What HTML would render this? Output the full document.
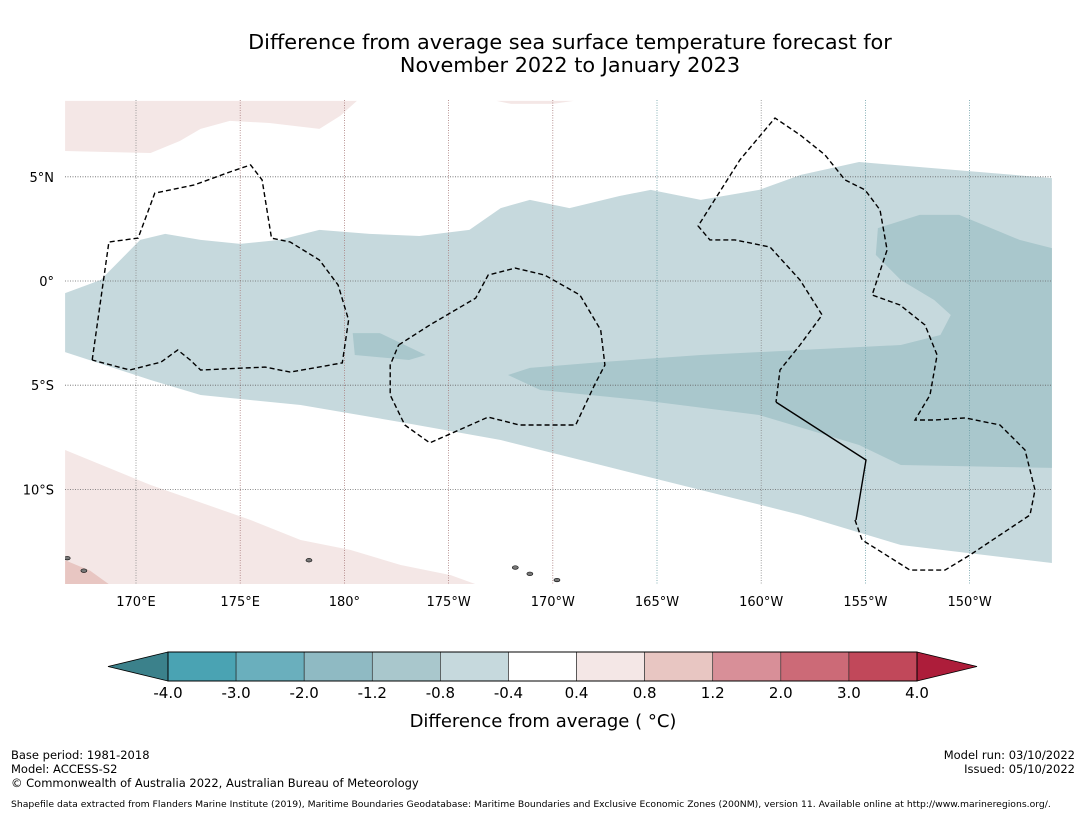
<!DOCTYPE html>
<html><head><meta charset="utf-8">
<style>
html,body{margin:0;padding:0;background:#fff;}
body{width:1085px;height:816px;position:relative;overflow:hidden;font-family:"DejaVu Sans","Liberation Sans",sans-serif;}
.t{position:absolute;white-space:nowrap;color:#000;}
</style></head>
<body>
<div class="t" style="left:0;width:1140px;top:31px;text-align:center;font-size:20.8px;line-height:23px;">Difference from average sea surface temperature forecast for<br>November 2022 to January 2023</div>
<svg id="map" width="1085" height="816" style="position:absolute;left:0;top:0" xmlns="http://www.w3.org/2000/svg"></svg>
<div class="t" style="left:11px;top:748px;font-size:11.5px;line-height:14px;">Base period: 1981-2018<br>Model: ACCESS-S2</div>
<div class="t" style="left:11px;top:776px;font-size:11.5px;">© Commonwealth of Australia 2022, Australian Bureau of Meteorology</div>
<div class="t" style="right:10px;top:748px;font-size:11.5px;line-height:14px;text-align:right;">Model run: 03/10/2022<br>Issued: 05/10/2022</div>
<div class="t" style="left:11px;top:799px;font-size:9.25px;">Shapefile data extracted from Flanders Marine Institute (2019), Maritime Boundaries Geodatabase: Maritime Boundaries and Exclusive Economic Zones (200NM), version 11. Available online at http://www.marineregions.org/.</div>
<script>
const NS='http://www.w3.org/2000/svg';
const svg=document.getElementById('map');
const FONT='DejaVu Sans, Liberation Sans, sans-serif';
const lonTicks=[170,175,180,185,190,195,200,205,210];
const lonLabels=['170°E','175°E','180°','175°W','170°W','165°W','160°W','155°W','150°W'];
const latTicks=[5,0,-5,-10];
const latLabels=['5°N','0°','5°S','10°S'];
const cbLevels=['-4.0','-3.0','-2.0','-1.2','-0.8','-0.4','0.4','0.8','1.2','2.0','3.0','4.0'];
const cbColors=['#4aa3b3','#6aafbd','#8fbac3','#a9c7cc','#c6d9dd','#ffffff','#f4e7e6','#e8c6c2','#d88f98','#cc6a77','#c1485a'];
const lightBand=[[166.6,-0.58],[168.3,0.05],[170.2,1.97],[171.4,2.26],[173.1,1.97],[175,1.78],[176.9,1.97],[178.8,2.45],[181.2,2.26],[183.6,2.16],[186,2.45],[187.5,3.5],[188.9,3.89],[190.8,3.5],[193.2,4.08],[194.7,4.37],[197.1,3.89],[199.9,4.37],[201.9,5.09],[204.7,5.71],[213.95,4.94],[213.95,-13.53],[206.7,-12.67],[201.9,-11.23],[197.1,-10.03],[192.3,-8.83],[187.5,-7.63],[182.7,-6.77],[177.9,-5.95],[173.1,-5.47],[170.7,-4.75],[166.6,-3.41]];
const midBand=[[213.95,1.58],[212.4,1.97],[209.5,3.17],[207.6,3.17],[205.6,2.54],[205.5,1.25],[206.7,0.05],[208.3,-0.91],[209.1,-1.63],[208.6,-2.59],[206.7,-3.07],[201.9,-3.31],[197.1,-3.55],[192.3,-3.89],[188.9,-4.17],[187.85,-4.51],[189.4,-5.23],[194.2,-5.71],[199.9,-6.43],[204.7,-7.87],[206.7,-8.83],[213.95,-8.97]];
const midPatch=[[180.4,-2.5],[181.7,-2.5],[183.9,-3.55],[183.1,-3.79],[180.5,-3.55]];
const pinkTop=[[166.6,8.64],[180.6,8.64],[179.8,7.92],[178.8,7.3],[176.4,7.58],[174.5,7.68],[173.1,7.3],[172.1,6.72],[170.7,6.14],[166.6,6.24]];
const pinkBottom=[[166.6,-8.11],[170.7,-9.79],[175.5,-11.47],[177.9,-12.43],[180.3,-12.91],[182.7,-13.63],[185.1,-14.11],[186.3,-14.55],[166.6,-14.55]];
const pinkTopMid=[[187.3,8.64],[191,8.64],[190,8.5],[188,8.5]];
const pinkDark=[[166.6,-13.4],[167.8,-13.9],[168.7,-14.55],[166.6,-14.55]];
const eez1=[[167.9,-3.79],[168.7,1.87],[170.1,2.06],[170.9,4.22],[172.8,4.61],[174.5,5.23],[175.5,5.57],[176.05,4.85],[176.5,2.06],[177.4,1.87],[178.8,1.01],[179.7,-0.19],[180.2,-1.87],[179.9,-3.93],[177.4,-4.37],[176.2,-4.13],[173.1,-4.27],[172.6,-3.79],[172.0,-3.31],[171.2,-3.89],[169.7,-4.27],[167.9,-3.79]];
const eez2=[[182.6,-3.07],[184.1,-2.11],[186.3,-0.82],[186.9,0.29],[188.2,0.62],[189.6,0.29],[191.3,-0.67],[192.3,-2.35],[192.5,-4.03],[192.0,-4.99],[191.1,-6.91],[188.4,-6.91],[186.9,-6.53],[184.1,-7.77],[182.9,-6.91],[182.2,-5.47],[182.2,-4.03],[182.6,-3.07]];
const eez3=[[204.5,-11.47],[204.84,-12.43],[205.46,-12.81],[207.14,-13.87],[208.82,-13.87],[210.02,-13.15],[211.46,-12.19],[212.9,-11.23],[213.14,-10.03],[212.66,-8.11],[211.46,-6.91],[209.78,-6.57],[208.34,-6.67],[207.38,-6.67],[208.1,-5.47],[208.44,-3.55],[207.86,-2.11],[206.66,-1.15],[205.32,-0.67],[206.04,1.49],[205.7,3.41],[204.98,4.37],[204.02,4.85],[203.06,6.05],[201.86,7.01],[200.66,7.82],[198.98,5.81],[196.97,2.64],[197.54,1.97],[198.74,1.97],[200.42,1.63],[201.86,0.05],[202.92,-1.63],[201.86,-3.07],[200.9,-4.27],[200.71,-5.81]];
const eezSolid=[[200.71,-5.81],[205.03,-8.59],[204.55,-11.47]];
const islands=[[188.2,-13.75],[188.9,-14.05],[190.2,-14.35],[178.3,-13.4],[166.7,-13.3],[167.5,-13.9]];

const X0=136, DX=20.84, Y0=281;
const xs=lon=>X0+(lon-170)*DX;
const ys=lat=>Y0-lat*DX;
const mapL=65,mapR=1052,mapT=100,mapB=584;
function el(tag,attrs){const e=document.createElementNS(NS,tag);for(const k in attrs)e.setAttribute(k,attrs[k]);svg.appendChild(e);return e;}
const pts=a=>a.map(p=>xs(p[0]).toFixed(1)+','+ys(p[1]).toFixed(1)).join(' ');

const defs=el('defs',{});
const cp=document.createElementNS(NS,'clipPath');cp.setAttribute('id','mc');
const cr=document.createElementNS(NS,'rect');cr.setAttribute('x',mapL);cr.setAttribute('y',mapT);cr.setAttribute('width',mapR-mapL);cr.setAttribute('height',mapB-mapT);
cp.appendChild(cr);defs.appendChild(cp);
const g=el('g',{'clip-path':'url(#mc)'});
function poly(a,fill,name){const p=document.createElementNS(NS,'polygon');p.setAttribute('points',pts(a));p.setAttribute('fill',fill);


g.appendChild(p);return p;}
poly(pinkTop,cbColors[6],'warm-region-north');
poly(pinkTopMid,cbColors[6],'warm-region-north-small');
poly(pinkBottom,cbColors[6],'warm-region-south');
poly(pinkDark,cbColors[7],'warm-region-corner');
poly(lightBand,cbColors[4],'cool-band');
poly(midBand,cbColors[3],'cooler-region-east');
poly(midPatch,cbColors[3],'cooler-patch');
const gridCols=['#888','#a87a7a','#a87a7a','#a87a7a','#a87a7a','#6a9ea6','#888','#6a9ea6','#6a9ea6'];
lonTicks.forEach((lon,i)=>{const l=document.createElementNS(NS,'line');
l.setAttribute('x1',xs(lon));l.setAttribute('x2',xs(lon));l.setAttribute('y1',mapT);l.setAttribute('y2',mapB);
l.setAttribute('stroke',gridCols[i]);l.setAttribute('stroke-width','0.8');l.setAttribute('stroke-dasharray','1,1.5');


g.appendChild(l);});
latTicks.forEach(lat=>{const l=document.createElementNS(NS,'line');
l.setAttribute('x1',mapL);l.setAttribute('x2',mapR);l.setAttribute('y1',ys(lat));l.setAttribute('y2',ys(lat));
l.setAttribute('stroke','#666');l.setAttribute('stroke-width','0.8');l.setAttribute('stroke-dasharray','1,1.5');


g.appendChild(l);});
function line(a,dash,name){const p=document.createElementNS(NS,'polyline');p.setAttribute('points',pts(a));p.setAttribute('fill','none');
p.setAttribute('stroke','#000');p.setAttribute('stroke-width','1.4');if(dash)p.setAttribute('stroke-dasharray','5,3');


g.appendChild(p);}
line(eez1,true,'eez-boundary-gilbert');
line(eez2,true,'eez-boundary-phoenix');
line(eez3,true,'eez-boundary-line-islands');
line(eezSolid,false,'eez-boundary-solid');
islands.forEach(p=>{const e=document.createElementNS(NS,'ellipse');e.setAttribute('cx',xs(p[0]));e.setAttribute('cy',ys(p[1]));e.setAttribute('rx',3);e.setAttribute('ry',1.8);
e.setAttribute('fill','#777');e.setAttribute('stroke','#000');e.setAttribute('stroke-width','0.6');


g.appendChild(e);});
lonTicks.forEach((lon,i)=>{const t=el('text',{x:xs(lon),y:606,'text-anchor':'middle','font-size':'13','font-family':FONT});t.textContent=lonLabels[i];

});
latTicks.forEach((lat,i)=>{const t=el('text',{x:54,y:ys(lat)+5,'text-anchor':'end','font-size':'13','font-family':FONT});t.textContent=latLabels[i];

});
const cbL=168,cbR=917,cbT=652,cbB=681,n=cbColors.length,w=(cbR-cbL)/n;
const lt=el('polygon',{points:`${cbL},${cbT} ${cbL},${cbB} 108,${(cbT+cbB)/2}`,fill:'#3b818b',stroke:'#000','stroke-width':'0.8'});


const rt=el('polygon',{points:`${cbR},${cbT} ${cbR},${cbB} 977,${(cbT+cbB)/2}`,fill:'#ad1d3a',stroke:'#000','stroke-width':'0.8'});


cbColors.forEach((c,i)=>{const r=el('rect',{x:cbL+i*w,y:cbT,width:w,height:cbB-cbT,fill:c,stroke:'#222','stroke-width':'0.6'});

});
el('rect',{x:cbL,y:cbT,width:cbR-cbL,height:cbB-cbT,fill:'none',stroke:'#000','stroke-width':'1'});
cbLevels.forEach((s,i)=>{const t=el('text',{x:cbL+i*w,y:698,'text-anchor':'middle','font-size':'15','font-family':FONT});t.textContent=s;

});
const ct=el('text',{x:543,y:727,'text-anchor':'middle','font-size':'18','font-family':FONT});
ct.textContent='Difference from average ( °C)';


</script>
</body></html>
